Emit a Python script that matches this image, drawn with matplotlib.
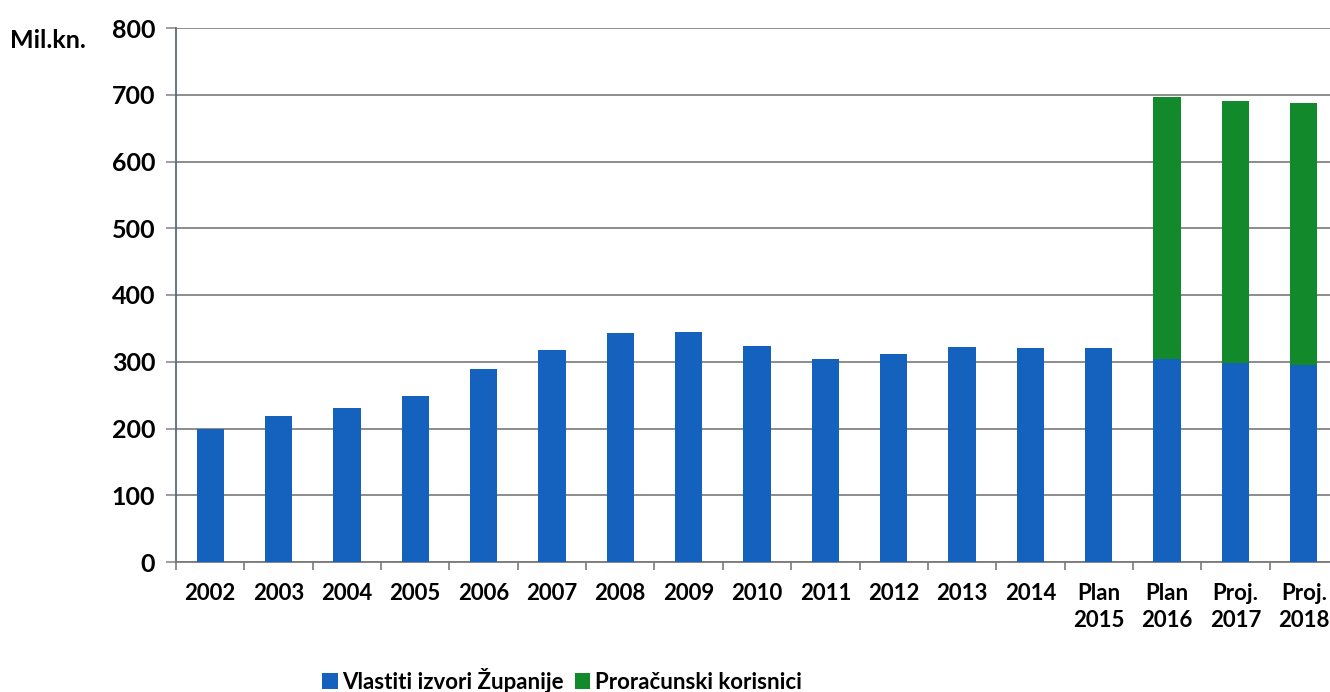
import matplotlib
matplotlib.use("Agg")
import matplotlib.pyplot as plt
import numpy as np

categories = ["2002", "2003", "2004", "2005", "2006", "2007", "2008", "2009",
              "2010", "2011", "2012", "2013", "2014", "Plan\n2015", "Plan\n2016",
              "Proj.\n2017", "Proj.\n2018"]
vlastiti = [199, 219, 231, 249, 289, 317, 343, 344, 324, 304, 311, 322, 320, 321, 304, 298, 295]
korisnici = [0, 0, 0, 0, 0, 0, 0, 0, 0, 0, 0, 0, 0, 0, 393, 393, 393]
yticks = [0, 100, 200, 300, 400, 500, 600, 700, 800]
series_names = ["Vlastiti izvori Županije", "Proračunski korisnici"]

BLUE = "#1462BE"
GREEN = "#128A2C"
FONT = ["Lato", "DejaVu Sans"]
plt.rcParams["font.family"] = FONT
plt.rcParams["font.weight"] = "bold"

fig = plt.figure(figsize=(13.3, 6.92), dpi=100)
W, H = 1330, 692
ax = fig.add_axes([176 / W, (H - 562) / H, 1162 / W, (562 - 28) / H])

x = np.arange(len(categories))
ax.bar(x, vlastiti, width=0.4, color=BLUE, label=series_names[0], zorder=3)
k = np.array(korisnici, dtype=float)
mask = k > 0
ax.bar(x[mask], k[mask], width=0.4, bottom=np.array(vlastiti)[mask], color=GREEN,
       label=series_names[1], zorder=3)

ax.set_xlim(-0.5, len(categories) - 0.5)
ax.set_ylim(0, 800)
ax.set_yticks(yticks)
ax.set_yticklabels([str(v) for v in yticks], fontsize=18, fontweight="bold")
ax.yaxis.grid(True, color="#8c8c8c", linewidth=1.4, zorder=0)
ax.set_axisbelow(True)

ax.set_xticks(x)
ax.set_xticklabels(categories, fontsize=16, fontweight="bold", linespacing=1.35)
ax.set_xticks(np.arange(-0.5, len(categories) + 0.5, 1), minor=True)
ax.tick_params(axis="x", which="major", length=0, pad=15)
ax.tick_params(axis="x", which="minor", length=6, width=1.2, color="#7a7a7a")
ax.tick_params(axis="y", length=7, width=1.2, color="#8c8c8c", pad=8)

for s in ["top", "right"]:
    ax.spines[s].set_visible(False)
ax.spines["left"].set_color("#5a6a80")
ax.spines["left"].set_linewidth(1.3)
ax.spines["bottom"].set_color("#7a7a7a")
ax.spines["bottom"].set_linewidth(1.3)

fig.text(10 / W, (H - 41) / H, "Mil.kn.", fontsize=18, fontweight="bold",
         ha="left", va="center")

fig.legend(loc="lower center", bbox_to_anchor=(562 / W, -0.03), ncol=2,
           frameon=False, handlelength=0.7, handleheight=0.7,
           handletextpad=0.2, columnspacing=0.5,
           prop={"weight": "bold", "size": 16})

fig.savefig("out.png", dpi=100)
